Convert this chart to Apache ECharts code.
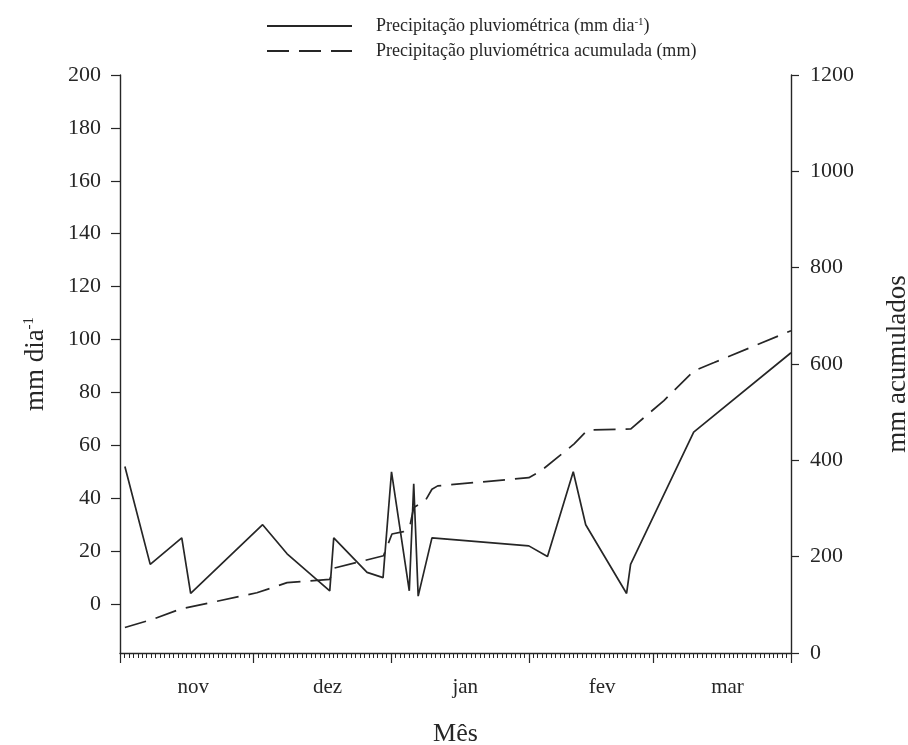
<!DOCTYPE html>
<html>
<head>
<meta charset="utf-8">
<script src="https://cdn.jsdelivr.net/npm/echarts@6/dist/echarts.min.js"></script>
<style>html,body{margin:0;padding:0;background:#fff}#c{width:908px;height:745px}</style>
</head>
<body>
<div id="c"></div>
<script>
// Daily rainfall (mm dia-1): day index since 1 Nov, value
const rainDays = [1.1, 6.8, 13.9, 15.9, 32.1, 37.6, 47.2, 48.1, 55.6, 59.2, 61.1, 65.1, 66.1, 67.1, 70.2, 92.0, 96.2, 102.0, 104.8, 114.0, 114.9, 129.1, 151.0];
const rainValues = [52, 15, 25, 4, 30, 19, 5, 25, 12, 10, 50, 5, 45.5, 3, 25, 22, 18, 50, 30, 4, 15, 65, 95];
// Accumulated rainfall (mm)
const accDays = [1.1, 7.4, 13.5, 30.8, 37.6, 47.2, 48.1, 59.3, 61.2, 63.8, 65.2, 66.1, 68.7, 70.2, 71.5, 92.0, 94.7, 102.2, 105.2, 114.9, 122.4, 129.2, 133.7, 151.0];
const accValues = [53, 70, 91, 125, 146, 153, 176, 202, 247, 252, 262, 302, 316, 340, 347, 364, 378, 434, 463, 465, 524, 586, 603, 669];
// Axis ticks / labels
const months = ['nov', 'dez', 'jan', 'fev', 'mar'];
const monthLabelDays = [16.5, 46.7, 77.7, 108.5, 136.7];
const monthBoundDays = [0, 30, 61, 92, 120, 151];
const leftTicks = [0, 20, 40, 60, 80, 100, 120, 140, 160, 180, 200];

const FONT = 'Liberation Serif';
const INK = '#262626';
const chart = echarts.init(document.getElementById('c'), null, {renderer: 'canvas'});

const rainData = rainDays.map((d, i) => [d, rainValues[i]]);
const accData = accDays.map((d, i) => [d, accValues[i]]);

const rich = {
  a: {fontFamily: FONT, fontSize: 18, color: INK},
  s: {fontFamily: FONT, fontSize: 11, color: INK, verticalAlign: 'top', padding: [0, 0, 6, 0]}
};

chart.setOption({
  animation: false,
  backgroundColor: '#fff',
  grid: {left: 120, right: 117, top: 75, bottom: 92, containLabel: false, outerBoundsMode: 'none'},
  legend: {
    orient: 'vertical', left: 261, top: 12, itemWidth: 85, itemHeight: 14, itemGap: 7,
    itemStyle: {color: 'rgba(0,0,0,0)', borderColor: 'rgba(0,0,0,0)', borderWidth: 0},
    textStyle: {fontFamily: FONT, fontSize: 18, color: INK, padding: [0, 0, 0, 19], rich: rich},
    formatter: function (n) {
      if (n === 'daily') return '{a|Precipitação pluviométrica (mm dia}{s|-1}{a|)}';
      return '{a|Precipitação pluviométrica acumulada (mm)}';
    },
    data: ['daily', 'acc']
  },
  xAxis: [
    {
      type: 'value', min: 0, max: 151, position: 'bottom',
      name: 'Mês', nameLocation: 'middle', nameGap: 68,
      nameTextStyle: {fontFamily: FONT, fontSize: 26, color: INK},
      axisLine: {onZero: false, lineStyle: {color: INK, width: 1.4}},
      axisTick: {show: true, customValues: monthBoundDays, length: 10, lineStyle: {color: INK, width: 1.2}},
      axisLabel: {
        customValues: monthLabelDays, margin: 24,
        fontFamily: FONT, fontSize: 21, color: INK,
        formatter: function (v) { const i = monthLabelDays.indexOf(v); return i >= 0 ? months[i] : ''; }
      },
      splitLine: {show: false}
    },
    {
      type: 'value', min: 0, max: 151, interval: 1, position: 'bottom', gridIndex: 0,
      axisLine: {show: false, onZero: false},
      axisTick: {show: true, length: 5, lineStyle: {color: INK, width: 1}},
      axisLabel: {show: false},
      splitLine: {show: false}
    }
  ],
  yAxis: [
    {
      type: 'value', min: -18.5, max: 200, position: 'left',
      name: '{a|mm dia}{s|-1}', nameLocation: 'middle', nameGap: 71, nameRotate: 90,
      nameTextStyle: {rich: {
        a: {fontFamily: FONT, fontSize: 27, color: INK},
        s: {fontFamily: FONT, fontSize: 15, color: INK, verticalAlign: 'top', padding: [0, 0, 9, 0]}
      }},
      axisLine: {show: true, onZero: false, lineStyle: {color: INK, width: 1.4}},
      axisTick: {show: true, customValues: leftTicks, length: 9, lineStyle: {color: INK, width: 1.2}},
      axisLabel: {customValues: leftTicks, margin: 19, fontFamily: FONT, fontSize: 22, color: INK},
      splitLine: {show: false}
    },
    {
      type: 'value', min: 0, max: 1200, interval: 200, position: 'right',
      name: 'mm acumulados', nameLocation: 'middle', nameGap: 93, nameRotate: 90,
      nameTextStyle: {fontFamily: FONT, fontSize: 27, color: INK},
      axisLine: {show: true, onZero: false, lineStyle: {color: INK, width: 1.4}},
      axisTick: {show: true, length: 8, lineStyle: {color: INK, width: 1.2}},
      axisLabel: {margin: 19, fontFamily: FONT, fontSize: 22, color: INK, formatter: function (v) { return String(v); }},
      splitLine: {show: false}
    }
  ],
  series: [
    {
      name: 'daily', type: 'line', xAxisIndex: 0, yAxisIndex: 0, data: rainData,
      symbol: 'none', lineStyle: {color: INK, width: 1.7, type: 'solid'}, itemStyle: {color: INK}
    },
    {
      name: 'acc', type: 'line', xAxisIndex: 0, yAxisIndex: 1, data: accData,
      symbol: 'none', lineStyle: {color: INK, width: 1.7, type: [22, 10]}, itemStyle: {color: INK}
    }
  ]
});
</script>
</body>
</html>
